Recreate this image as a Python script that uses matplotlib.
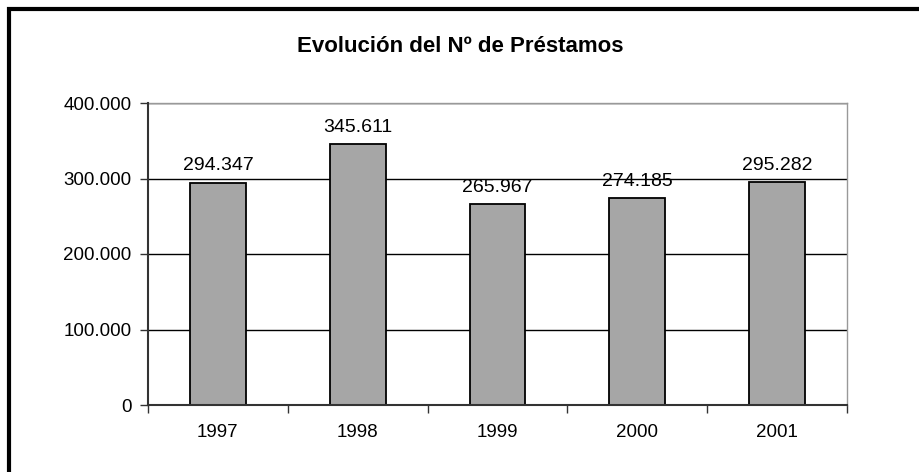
import matplotlib
matplotlib.use("Agg")
import matplotlib.pyplot as plt
from matplotlib.patches import Rectangle
from matplotlib.ticker import FuncFormatter, FixedLocator

years = ["1997", "1998", "1999", "2000", "2001"]
prestamos = [294347, 345611, 265967, 274185, 295282]
y_ticks = [0, 100000, 200000, 300000, 400000]
title = "Evolución del Nº de Préstamos"

plt.rcParams['font.family'] = ['Liberation Sans', 'DejaVu Sans']

def fmt(v):
    return f"{int(round(v)):,}".replace(",", ".")

fig = plt.figure(figsize=(9.19, 4.72), dpi=100)
ax = fig.add_axes([148/919, 67/472, 699/919, 302/472])

x = list(range(len(years)))
ax.bar(x, prestamos, width=0.4, color="#A6A6A6", edgecolor="black", linewidth=1.3, zorder=3)
for xi, v in zip(x, prestamos):
    ax.annotate(fmt(v), (xi, v), xytext=(0, 6), textcoords="offset points",
                ha="center", va="bottom", fontsize=14)

ax.set_xlim(-0.5, len(years) - 0.5)
ax.set_ylim(0, 400000)
ax.set_yticks(y_ticks)
ax.yaxis.set_major_formatter(FuncFormatter(lambda v, p: fmt(v)))
ax.set_xticks(x)
ax.set_xticklabels(years)
ax.xaxis.set_minor_locator(FixedLocator([i - 0.5 for i in range(len(years) + 1)]))
ax.tick_params(axis="x", which="major", length=0, pad=14, labelsize=13.5)
ax.tick_params(axis="x", which="minor", length=6, width=1, direction="out", color="#333333")
ax.tick_params(axis="y", length=6, width=1, direction="out", labelsize=13.5, pad=6, color="#333333")

ax.grid(axis="y", color="black", linewidth=1, zorder=0)
for s in ["top", "right"]:
    ax.spines[s].set_color("#999999")
    ax.spines[s].set_linewidth(1)
for s in ["left", "bottom"]:
    ax.spines[s].set_color("#333333")
    ax.spines[s].set_linewidth(1.5)
    ax.spines[s].set_zorder(4)

fig.text(460/919, 1 - 47/472, title, ha="center", va="center", fontsize=16, fontweight="bold")

fig.patches.append(Rectangle((8.5/919, -0.1), 1.2, (472 - 8.5)/472 + 0.1,
                             transform=fig.transFigure, fill=False, edgecolor="black",
                             linewidth=3))

fig.savefig("out.png", dpi=100)
